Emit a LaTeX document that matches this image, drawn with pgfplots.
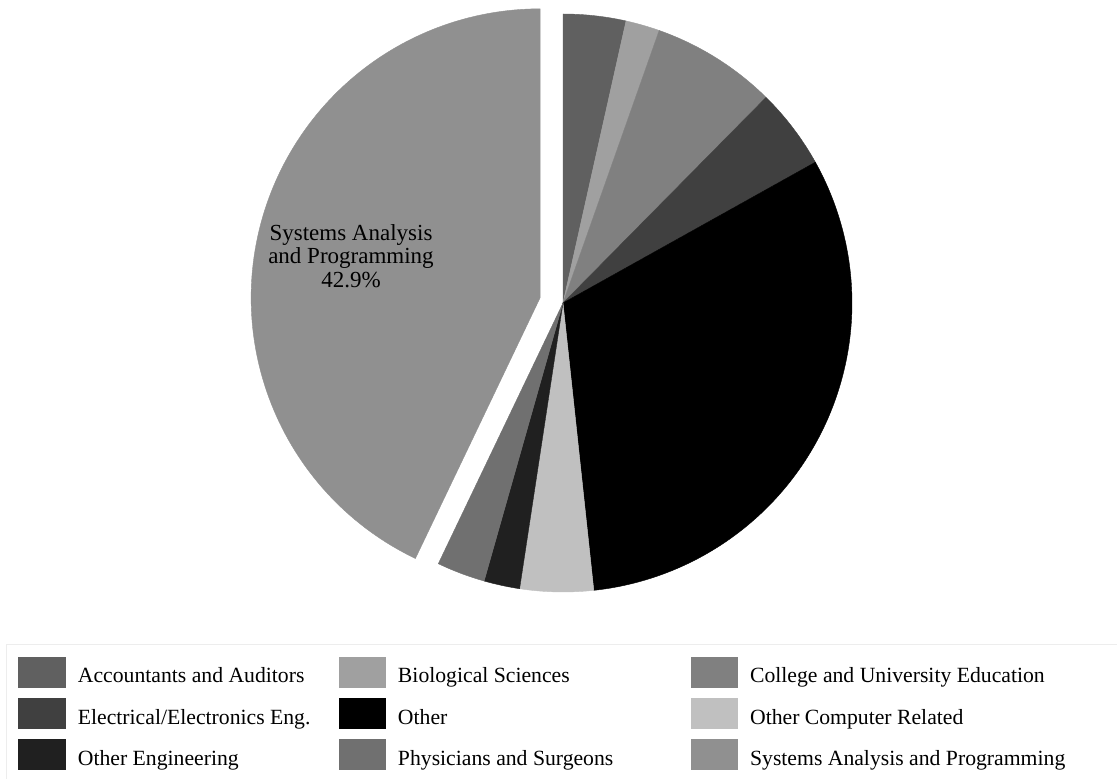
\documentclass[border=0pt]{standalone}
\usepackage{pgfplots}
\pgfplotsset{compat=1.18}
\usepackage{fontspec}
\setmainfont{Liberation Serif}
\definecolor{cAcc}{HTML}{606060}
\definecolor{cBio}{HTML}{A0A0A0}
\definecolor{cCol}{HTML}{808080}
\definecolor{cEE}{HTML}{404040}
\definecolor{cOth}{HTML}{000000}
\definecolor{cOCR}{HTML}{C0C0C0}
\definecolor{cOE}{HTML}{202020}
\definecolor{cPS}{HTML}{707070}
\definecolor{cSys}{HTML}{909090}
\pgfplotsset{pielegend/.style={legend image code/.code={\fill[##1] (0pt,-15pt) rectangle (46pt,15pt); \path (59pt,0pt);}}}
% #1 colour, #2 start %, #3 end %, #4 centre x, #5 centre y, #6 legend width, #7 name
\newcommand{\slice}[7]{%
  \addplot[fill=#1, draw=#1, line width=0.4pt, domain={90-3.6*(#3)}:{90-3.6*(#2)}, samples=120, variable=\t]
    ({#4+289*cos(\t)},{#5+289*sin(\t)}) -- (axis cs:#4,#5) -- cycle;
  \addlegendentry{\makebox[#6][l]{\rule[-6pt]{0pt}{30pt}#7}}%
}
\begin{document}
\begin{tikzpicture}
\begin{axis}[
  at={(0,0)}, anchor=south west,
  scale only axis, width=1117pt, height=779pt,
  xmin=0, xmax=1117, ymin=-779, ymax=0,
  hide axis, clip=false,
  legend columns=3,
  legend style={at={(0.00537,0.1733)}, anchor=north west, draw=black!7, line width=1pt,
    fill=white, inner xsep=12pt, inner ysep=12pt, column sep=0pt, row sep=11pt,
    nodes={inner sep=0pt, font=\fontsize{21.7}{26}\selectfont}},
  pielegend,
]
\slice{cAcc}{0}{3.5}{563}{-303}{260.7pt}{Accountants and Auditors}
\slice{cBio}{3.5}{5.4}{563}{-303}{292.7pt}{Biological Sciences}
\slice{cCol}{5.4}{12.4}{563}{-303}{380pt}{College and University Education}
\slice{cEE}{12.4}{16.9}{563}{-303}{260.7pt}{Electrical/Electronics Eng.}
\slice{cOth}{16.9}{48.3}{563}{-303}{292.7pt}{Other}
\slice{cOCR}{48.3}{52.4}{563}{-303}{380pt}{Other Computer Related}
\slice{cOE}{52.4}{54.4}{563}{-303}{260.7pt}{Other Engineering}
\slice{cPS}{54.4}{57.1}{563}{-303}{292.7pt}{Physicians and Surgeons}
\slice{cSys}{57.1}{100}{540.1}{-297.8}{380pt}{Systems Analysis and Programming}
\node[align=center, font=\fontsize{23}{23.5}\selectfont] at (axis cs:351,-256)
  {Systems Analysis\\and Programming\\42.9\%};
\end{axis}
\pgfresetboundingbox
\useasboundingbox (0,0) rectangle (1117pt,779pt);
\end{tikzpicture}
\end{document}
